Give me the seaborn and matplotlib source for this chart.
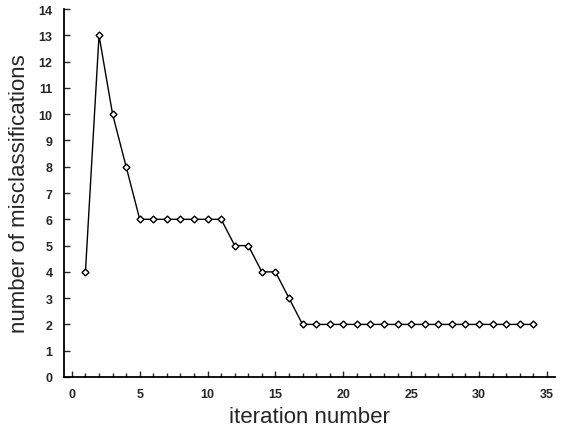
import matplotlib
matplotlib.use("Agg")
import matplotlib.pyplot as plt
import seaborn as sns
import pandas as pd
from matplotlib.ticker import MultipleLocator

iterations = list(range(1, 35))
misclassifications = [4, 13, 10, 8, 6, 6, 6, 6, 6, 6, 6, 5, 5, 4, 4, 3,
                      2, 2, 2, 2, 2, 2, 2, 2, 2, 2, 2, 2, 2, 2, 2, 2, 2, 2]
x_ticks = [0, 5, 10, 15, 20, 25, 30, 35]
y_ticks = list(range(0, 15))

sns.set_style("ticks")
plt.rcParams['font.family'] = ['Liberation Sans', 'DejaVu Sans']

df = pd.DataFrame({"iteration": iterations, "misclassifications": misclassifications})

fig = plt.figure(figsize=(5.64, 4.39), dpi=100)
ax = fig.add_axes([0.113, 0.139, 0.871, 0.838])
sns.lineplot(data=df, x="iteration", y="misclassifications", ax=ax,
             color="black", linewidth=1.0, marker="D", markersize=3.5,
             markerfacecolor="white", markeredgecolor="black", markeredgewidth=1.0)

ax.set_xlim(-0.6, 35.6)
ax.set_ylim(0, 14)
ax.set_xticks(x_ticks)
ax.set_yticks(y_ticks)
ax.xaxis.set_minor_locator(MultipleLocator(1))
ax.tick_params(axis="both", direction="in", length=4, width=1, labelsize=9, pad=8)
ax.tick_params(axis="x", which="minor", direction="in", length=3, width=1)
for lab in ax.get_xticklabels() + ax.get_yticklabels():
    lab.set_fontweight("bold")
sns.despine(ax=ax)
for s in ["left", "bottom"]:
    ax.spines[s].set_linewidth(1.3)
    ax.spines[s].set_color("black")

ax.set_xlabel("iteration number", fontsize=16, labelpad=4)
ax.set_ylabel("number of misclassifications", fontsize=16, labelpad=6)

fig.savefig("out.png", dpi=100)
